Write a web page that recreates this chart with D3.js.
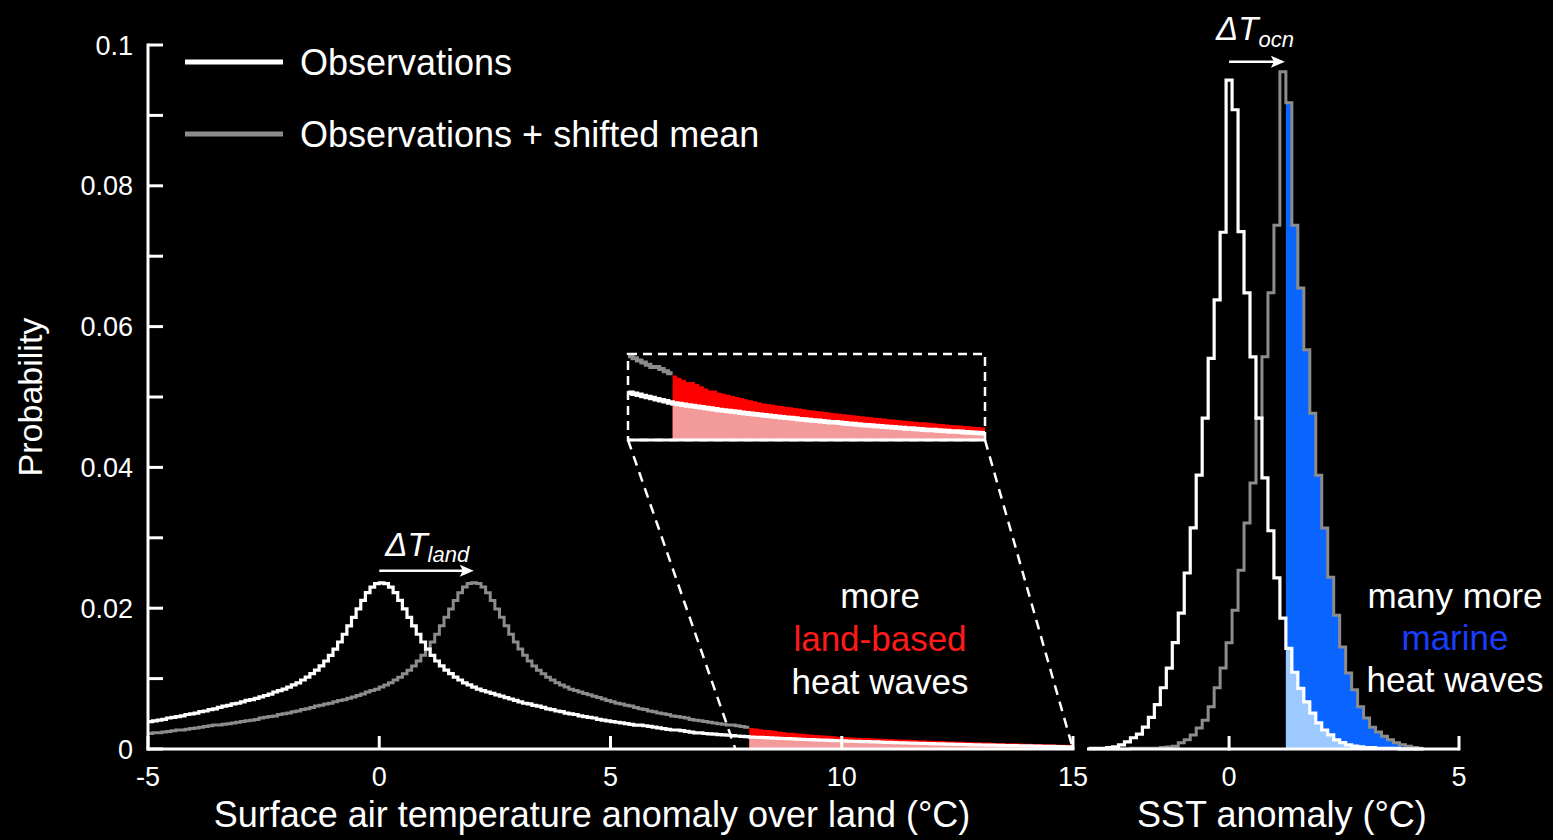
<!DOCTYPE html>
<html>
<head>
<meta charset="utf-8">
<script src="https://cdn.jsdelivr.net/npm/d3@7"></script>
<style>
  html, body { margin: 0; padding: 0; background: #000; overflow: hidden; }
  svg { display: block; }
  text { font-family: "Liberation Sans", Arial, Helvetica, sans-serif; fill: #fff; }
</style>
</head>
<body>
<svg id="chart" width="1553" height="840"></svg>
<script>
// ---------------- data ----------------
// Land surface air temperature anomaly histogram (observations), 0.1 °C bins starting at -7.0 °C
const landBinStart = -7.0;
const landBinWidth = 0.1;
const landObs = [
  0.0022, 0.0023, 0.0023, 0.0024, 0.0025, 0.0026, 0.0027, 0.0027, 0.0028, 0.0029,
  0.0030, 0.0031, 0.0032, 0.0033, 0.0034, 0.0034, 0.0035, 0.0036, 0.0037, 0.0038,
  0.0039, 0.0040, 0.0041, 0.0042, 0.0044, 0.0045, 0.0046, 0.0047, 0.0049, 0.0050,
  0.0051, 0.0053, 0.0054, 0.0056, 0.0057, 0.0059, 0.0061, 0.0062, 0.0064, 0.0065,
  0.0067, 0.0069, 0.0070, 0.0072, 0.0074, 0.0076, 0.0078, 0.0081, 0.0083, 0.0085,
  0.0088, 0.0091, 0.0094, 0.0098, 0.0102, 0.0107, 0.0112, 0.0118, 0.0125, 0.0133,
  0.0142, 0.0152, 0.0163, 0.0175, 0.0187, 0.0199, 0.0211, 0.0222, 0.0230, 0.0235,
  0.0236, 0.0235, 0.0230, 0.0222, 0.0211, 0.0199, 0.0187, 0.0175, 0.0163, 0.0152,
  0.0142, 0.0133, 0.0125, 0.0118, 0.0112, 0.0107, 0.0102, 0.0098, 0.0094, 0.0091,
  0.0088, 0.0085, 0.0083, 0.0081, 0.0079, 0.0077, 0.0075, 0.0073, 0.0071, 0.0069,
  0.0067, 0.0065, 0.0064, 0.0062, 0.0061, 0.0059, 0.0057, 0.0056, 0.0054, 0.0053,
  0.0051, 0.0050, 0.0049, 0.0047, 0.0046, 0.0045, 0.0044, 0.0042, 0.0041, 0.0040,
  0.0039, 0.0038, 0.0037, 0.0036, 0.0035, 0.0034, 0.0034, 0.0033, 0.0032, 0.0031,
  0.0030, 0.0029, 0.0028, 0.0027, 0.0027, 0.0026, 0.0025, 0.0024, 0.0023, 0.0023,
  0.0022, 0.00215, 0.0021, 0.00205, 0.0020, 0.00195, 0.0019, 0.00185, 0.0018, 0.00175,
  0.0017, 0.00167, 0.00164, 0.00161, 0.00158, 0.00155, 0.00152, 0.00149, 0.00146, 0.00143,
  0.0014, 0.00137, 0.00135, 0.00132, 0.0013, 0.00127, 0.00125, 0.00122, 0.0012, 0.00117,
  0.00115, 0.00113, 0.0011, 0.00108, 0.00106, 0.00104, 0.00102, 0.001, 0.00097, 0.00095,
  0.00093, 0.00091, 0.00089, 0.00087, 0.00085, 0.00083, 0.00082, 0.0008, 0.00078, 0.00076,
  0.00074, 0.00072, 0.0007, 0.00069, 0.00067, 0.00065, 0.00064, 0.00062, 0.0006, 0.00059,
  0.00057, 0.00056, 0.00054, 0.00053, 0.00051, 0.0005, 0.00048, 0.00047, 0.00046, 0.00044,
  0.00043, 0.00042, 0.0004, 0.00039, 0.00038, 0.00036, 0.00035, 0.00034, 0.00032, 0.00031
];
const landShift = 2.0;          // ΔT_land
const landThreshold = 8;        // heat-wave threshold over land (°C)
const landDomain = [-5, 15];
const landTicks = [-5, 0, 5, 10, 15];

// SST anomaly histograms, bins of 0.13 °C centred on k * 0.13, k = -23 … 32
const sstBinWidth = 0.13;
const sstFirstBin = -23;
const sstObs = [
  0.0001, 0.0001, 0.0001, 0.0002, 0.0003, 0.0006, 0.0010, 0.0016, 0.0021, 0.0031,
  0.0045, 0.0063, 0.0087, 0.0115, 0.0151, 0.0193, 0.0250, 0.0314, 0.0389, 0.0470,
  0.0555, 0.0638, 0.0734, 0.0950, 0.0908, 0.0735, 0.0648, 0.0557, 0.0470, 0.0385,
  0.0310, 0.0243, 0.0186, 0.0143, 0.0109, 0.0086, 0.0067, 0.0051, 0.0037, 0.0027,
  0.0020, 0.0013, 0.0009, 0.0006, 0.0004, 0.0003, 0.0002, 0.0002, 0.0001, 0.0001,
  0.0001, 0.0001, 0, 0, 0, 0
];
const sstShifted = [
  0, 0, 0, 0, 0, 0, 0, 0.0001, 0.0001, 0.0001,
  0.0001, 0.0001, 0.0002, 0.0003, 0.0004, 0.0009, 0.0013, 0.0020, 0.0030, 0.0041,
  0.0060, 0.0087, 0.0115, 0.0151, 0.0197, 0.0254, 0.0321, 0.0378, 0.0470, 0.0557,
  0.0648, 0.0744, 0.0962, 0.0918, 0.0744, 0.0655, 0.0567, 0.0477, 0.0389, 0.0314,
  0.0244, 0.0190, 0.0145, 0.0108, 0.0084, 0.0060, 0.0044, 0.0031, 0.0024, 0.0018,
  0.0013, 0.0009, 0.0006, 0.0004, 0.0002, 0.0001
];
const sstShift = 1.17;          // ΔT_ocn
const sstThreshold = 1.235;     // marine heat-wave threshold (°C)
const sstDomain = [-3.09, 5];
const sstTicks = [0, 5];

// probability axis
const probTicks = [0, 0.02, 0.04, 0.06, 0.08, 0.1];
const probTickLabels = ["0", "0.02", "0.04", "0.06", "0.08", "0.1"];
const probMinorTicks = [0.01, 0.03, 0.05, 0.07, 0.09];

// magnified tail window
const zoomWindow = [7, 15];
const zoomMaxProb = 0.004;
const zoomFoot = [7.7, 15];

// ---------------- layout ----------------
const C = {
  white: "#ffffff",
  grey: "#8c8c8c",
  red: "#ff0000",
  pink: "#f39a9a",
  blue: "#0a64ff",
  lightBlue: "#9cc9ff",
  marineText: "#1a3cff",
  landText: "#ff1a1a"
};
const FONT_BIG = 36, FONT_ANN = 35, FONT_TICK = 27;

const svg = d3.select("#chart");
svg.append("rect").attr("width", 1553).attr("height", 840).attr("fill", "#000");

const y = d3.scaleLinear().domain([0, 0.1]).range([749, 45]);
const xLand = d3.scaleLinear().domain(landDomain).range([148, 1073]);
const xSst = d3.scaleLinear().domain(sstDomain).range([1087, 1459]);
const ix = d3.scaleLinear().domain(zoomWindow).range([628, 985]);
const iy = d3.scaleLinear().domain([0, zoomMaxProb]).range([440, 354]);

const landBins = landObs.map((v, i) => ({ x0: +(landBinStart + i * landBinWidth).toFixed(3), w: landBinWidth, v }));
const sstBins = sstObs.map((v, i) => ({ x0: +((sstFirstBin + i - 0.5) * sstBinWidth).toFixed(4), w: sstBinWidth, v }));
const sstShiftBins = sstShifted.map((v, i) => ({ x0: +((sstFirstBin + i - 0.5) * sstBinWidth).toFixed(4), w: sstBinWidth, v }));

// step-outline points for bins whose (shifted) left edge lies in [lo, hi)
function stepPoints(bins, shift, lo, hi) {
  const eps = 1e-6;
  const sel = bins.filter(b => b.x0 + shift >= lo - eps && b.x0 + shift < hi - eps);
  const pts = sel.map(b => [b.x0 + shift, b.v]);
  if (sel.length) {
    const last = sel[sel.length - 1];
    pts.push([Math.min(last.x0 + shift + last.w, hi), last.v]);
  }
  return pts;
}
const stepLine = (sx, sy) => d3.line().x(d => sx(d[0])).y(d => sy(d[1])).curve(d3.curveStepAfter);
const stepArea = (sx, sy) => d3.area().x(d => sx(d[0])).y0(sy(0)).y1(d => sy(d[1])).curve(d3.curveStepAfter);

// ---------------- land panel ----------------
const gLand = svg.append("g");
gLand.append("path").attr("d", stepArea(xLand, y)(stepPoints(landBins, landShift, landThreshold, landDomain[1])))
  .attr("fill", C.red);
gLand.append("path").attr("d", stepArea(xLand, y)(stepPoints(landBins, 0, landThreshold, landDomain[1])))
  .attr("fill", C.pink);
gLand.append("path").attr("d", stepLine(xLand, y)(stepPoints(landBins, landShift, landDomain[0], landThreshold)))
  .attr("fill", "none").attr("stroke", C.grey).attr("stroke-width", 3);
gLand.append("path").attr("d", stepLine(xLand, y)(stepPoints(landBins, 0, landDomain[0], landDomain[1])))
  .attr("fill", "none").attr("stroke", C.white).attr("stroke-width", 3.2).attr("stroke-linejoin", "miter");

// ---------------- SST panel ----------------
const gSst = svg.append("g");
gSst.append("path").attr("d", stepArea(xSst, y)(stepPoints(sstShiftBins, 0, sstThreshold, sstDomain[1])))
  .attr("fill", C.blue);
gSst.append("path").attr("d", stepArea(xSst, y)(stepPoints(sstBins, 0, sstThreshold, sstDomain[1])))
  .attr("fill", C.lightBlue);
gSst.append("path").attr("d", stepLine(xSst, y)(stepPoints(sstShiftBins, 0, sstDomain[0], sstDomain[1])))
  .attr("fill", "none").attr("stroke", C.grey).attr("stroke-width", 3);
gSst.append("path").attr("d", stepLine(xSst, y)(stepPoints(sstBins, 0, sstDomain[0], sstDomain[1])))
  .attr("fill", "none").attr("stroke", C.white).attr("stroke-width", 3.2);

// ---------------- magnified tail ----------------
const gZoom = svg.append("g");
gZoom.append("path").attr("d", stepArea(ix, iy)(stepPoints(landBins, landShift, landThreshold, zoomWindow[1])))
  .attr("fill", C.red);
gZoom.append("path").attr("d", stepArea(ix, iy)(stepPoints(landBins, 0, landThreshold, zoomWindow[1])))
  .attr("fill", C.pink);
gZoom.append("path").attr("d", stepLine(ix, iy)(stepPoints(landBins, landShift, zoomWindow[0], landThreshold)))
  .attr("fill", "none").attr("stroke", C.grey).attr("stroke-width", 4);
gZoom.append("path").attr("d", stepLine(ix, iy)(stepPoints(landBins, 0, zoomWindow[0], zoomWindow[1])))
  .attr("fill", "none").attr("stroke", C.white).attr("stroke-width", 4.5);
gZoom.append("line")
  .attr("x1", ix(zoomWindow[0])).attr("x2", ix(zoomWindow[1]))
  .attr("y1", iy(0)).attr("y2", iy(0))
  .attr("stroke", C.white).attr("stroke-width", 3);
gZoom.append("rect")
  .attr("x", ix(zoomWindow[0])).attr("y", iy(zoomMaxProb))
  .attr("width", ix(zoomWindow[1]) - ix(zoomWindow[0]))
  .attr("height", iy(0) - iy(zoomMaxProb))
  .attr("fill", "none").attr("stroke", C.white).attr("stroke-width", 2.5)
  .attr("stroke-dasharray", "9,6");
[0, 1].forEach(j => {
  gZoom.append("line")
    .attr("x1", ix(zoomWindow[j])).attr("y1", iy(0))
    .attr("x2", xLand(zoomFoot[j])).attr("y2", y(0))
    .attr("stroke", C.white).attr("stroke-width", 2.5)
    .attr("stroke-dasharray", "10,7");
});

// ---------------- axes ----------------
const gAx = svg.append("g").attr("stroke", C.white).attr("stroke-width", 3).attr("fill", "none");
const TICK = 15;
// y axis
gAx.append("line").attr("x1", xLand(landDomain[0])).attr("x2", xLand(landDomain[0]))
  .attr("y1", y(0)).attr("y2", y(0.1)).attr("stroke-linecap", "square");
probTicks.concat(probMinorTicks).forEach(p => {
  gAx.append("line").attr("x1", xLand(landDomain[0])).attr("x2", xLand(landDomain[0]) + TICK)
    .attr("y1", y(p)).attr("y2", y(p));
});
// land x axis
gAx.append("line").attr("x1", xLand(landDomain[0])).attr("x2", xLand(landDomain[1]))
  .attr("y1", y(0)).attr("y2", y(0)).attr("stroke-linecap", "square");
landTicks.forEach(t => {
  gAx.append("line").attr("x1", xLand(t)).attr("x2", xLand(t))
    .attr("y1", y(0)).attr("y2", y(0) - 13);
});
// SST x axis
gAx.append("line").attr("x1", xSst(sstDomain[0])).attr("x2", xSst(sstDomain[1]))
  .attr("y1", y(0)).attr("y2", y(0));
sstTicks.forEach(t => {
  gAx.append("line").attr("x1", xSst(t)).attr("x2", xSst(t))
    .attr("y1", y(0) + 1.5).attr("y2", y(0) - 13);
});

// tick labels
const gTxt = svg.append("g");
probTicks.forEach((p, i) => {
  gTxt.append("text").attr("x", 133).attr("y", y(p) + 9.5)
    .attr("text-anchor", "end").attr("font-size", FONT_TICK).text(probTickLabels[i]);
});
const fmt = v => (v < 0 ? "-" + Math.abs(v) : String(v));
landTicks.forEach(t => {
  gTxt.append("text").attr("x", xLand(t)).attr("y", 786)
    .attr("text-anchor", "middle").attr("font-size", FONT_TICK).text(fmt(t));
});
sstTicks.forEach(t => {
  gTxt.append("text").attr("x", xSst(t)).attr("y", 786)
    .attr("text-anchor", "middle").attr("font-size", FONT_TICK).text(fmt(t));
});

// axis titles
gTxt.append("text").attr("x", 592).attr("y", 827).attr("text-anchor", "middle")
  .attr("font-size", FONT_BIG).text("Surface air temperature anomaly over land (°C)");
gTxt.append("text").attr("x", xSst(1.15)).attr("y", 827).attr("text-anchor", "middle")
  .attr("font-size", FONT_BIG).text("SST anomaly (°C)");
gTxt.append("text").attr("transform", "translate(42,397) rotate(-90)").attr("text-anchor", "middle")
  .attr("font-size", FONT_BIG - 2).text("Probability");

// legend
const legend = [
  { label: "Observations", color: C.white, y: 62 },
  { label: "Observations + shifted mean", color: C.grey, y: 134 }
];
legend.forEach(l => {
  gTxt.append("line").attr("x1", 185).attr("x2", 283).attr("y1", l.y).attr("y2", l.y)
    .attr("stroke", l.color).attr("stroke-width", 5);
  gTxt.append("text").attr("x", 300).attr("y", l.y + 12.5).attr("font-size", FONT_BIG).text(l.label);
});

// ΔT arrows
const arrowHead = (g, x, yy) => {
  g.append("path").attr("d", `M${x},${yy} L${x - 14},${yy - 6} L${x - 11},${yy} L${x - 14},${yy + 6} Z`)
    .attr("fill", C.white);
};
const landPeak = d3.max(landObs);
const yLandArrow = y(landPeak) - 12;
gTxt.append("line").attr("x1", xLand(0)).attr("x2", xLand(landShift) - 4)
  .attr("y1", yLandArrow).attr("y2", yLandArrow).attr("stroke", C.white).attr("stroke-width", 2.5);
arrowHead(gTxt, xLand(landShift) + 2, yLandArrow);
const tLand = gTxt.append("text").attr("x", xLand(0) + 6).attr("y", yLandArrow - 15)
  .attr("font-size", 33).attr("font-style", "italic");
tLand.append("tspan").text("ΔT");
tLand.append("tspan").attr("font-size", 22).attr("dy", 6).text("land");

const sstPeak = d3.max(sstShifted);
const ySstArrow = y(sstPeak) - 10;
gTxt.append("line").attr("x1", xSst(0)).attr("x2", xSst(sstShift) - 4)
  .attr("y1", ySstArrow).attr("y2", ySstArrow).attr("stroke", C.white).attr("stroke-width", 2.5);
arrowHead(gTxt, xSst(sstShift) + 2, ySstArrow);
const tSst = gTxt.append("text").attr("x", xSst(0) - 13).attr("y", ySstArrow - 22)
  .attr("font-size", 33).attr("font-style", "italic");
tSst.append("tspan").text("ΔT");
tSst.append("tspan").attr("font-size", 22).attr("dy", 7).text("ocn");

// annotations
const annLand = [
  { t: "more", c: C.white, y: 608 },
  { t: "land-based", c: C.landText, y: 651 },
  { t: "heat waves", c: C.white, y: 694 }
];
annLand.forEach(a => gTxt.append("text").attr("x", 880).attr("y", a.y).attr("text-anchor", "middle")
  .attr("font-size", FONT_ANN).style("fill", a.c).text(a.t));
const annSst = [
  { t: "many more", c: C.white, y: 608 },
  { t: "marine", c: C.marineText, y: 650 },
  { t: "heat waves", c: C.white, y: 692 }
];
annSst.forEach(a => gTxt.append("text").attr("x", 1455).attr("y", a.y).attr("text-anchor", "middle")
  .attr("font-size", FONT_ANN).style("fill", a.c).text(a.t));
</script>
</body>
</html>
